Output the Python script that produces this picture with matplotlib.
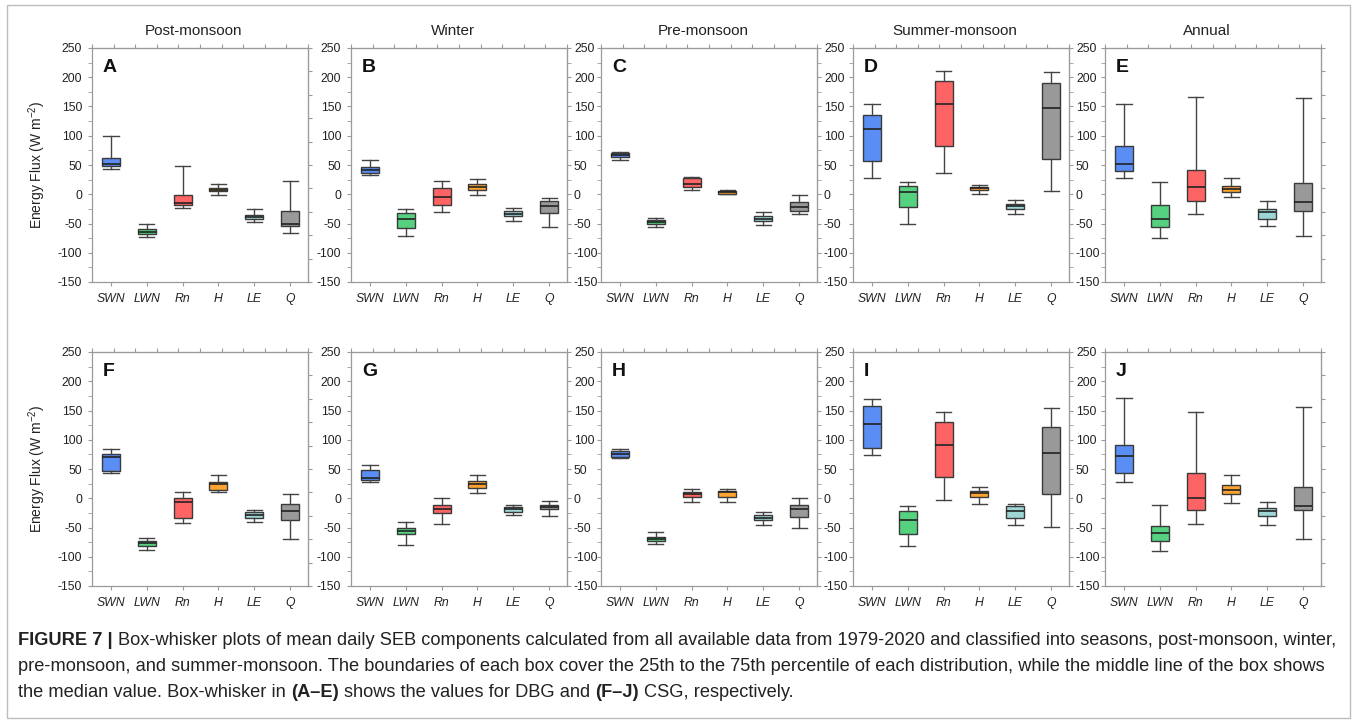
import numpy as np
import matplotlib.pyplot as plt
from matplotlib.patches import Rectangle

plt.rcParams['font.family'] = ['Liberation Sans', 'DejaVu Sans']
plt.rcParams['mathtext.fontset'] = 'custom'
plt.rcParams['mathtext.rm'] = 'Liberation Sans'
plt.rcParams['mathtext.it'] = 'Liberation Sans:italic'
plt.rcParams['axes.unicode_minus'] = False

cats = ['SWN', 'LWN', 'Rn', 'H', 'LE', 'Q']
seasons = ['Post-monsoon', 'Winter', 'Pre-monsoon', 'Summer-monsoon', 'Annual']
letters = ['A', 'B', 'C', 'D', 'E', 'F', 'G', 'H', 'I', 'J']
box_colors = ['#5a8ef5', '#55d17f', '#ff6464', '#ffa431', '#9ed6d6', '#999999']

# one row per component: whisker low, q1, median, q3, whisker high  (W m-2)
dbg_post = [[44, 48, 52, 62, 100], [-73, -68, -64, -59, -51], [-23, -19, -15, -2, 48],
            [-2, 5, 7, 11, 17], [-47, -43, -39, -35, -25], [-67, -55, -50, -28, 23]]
dbg_winter = [[33, 37, 42, 46, 58], [-72, -57, -42, -32, -26], [-31, -18, -5, 10, 23],
              [-1, 7, 13, 18, 26], [-46, -38, -34, -29, -24], [-56, -32, -20, -12, -7]]
dbg_pre = [[58, 64, 67, 70, 73], [-56, -51, -47, -44, -40], [8, 13, 18, 27, 30],
           [0, 1, 4, 6, 8], [-52, -45, -42, -38, -31], [-34, -28, -21, -13, -1]]
dbg_summer = [[28, 57, 112, 135, 155], [-51, -22, 3, 14, 21], [37, 82, 154, 194, 211],
              [1, 7, 10, 13, 15], [-33, -25, -20, -16, -10], [6, 61, 148, 190, 209]]
dbg_annual = [[28, 39, 52, 82, 155], [-75, -56, -42, -19, 21], [-33, -11, 13, 42, 166],
              [-4, 4, 9, 14, 27], [-54, -42, -30, -25, -11], [-71, -29, -13, 20, 164]]
csg_post = [[43, 47, 71, 76, 84], [-89, -81, -77, -73, -68], [-42, -33, -6, 1, 11],
            [11, 14, 24, 28, 39], [-41, -33, -28, -24, -20], [-69, -37, -21, -10, 7]]
csg_winter = [[28, 32, 35, 49, 56], [-80, -61, -56, -51, -40], [-44, -26, -18, -12, 1],
              [9, 18, 24, 30, 40], [-28, -23, -19, -15, -11], [-31, -19, -15, -11, -4]]
csg_pre = [[68, 70, 75, 81, 85], [-79, -73, -69, -66, -57], [-7, 2, 7, 11, 15],
           [-7, 2, 10, 12, 15], [-45, -38, -33, -29, -24], [-51, -32, -19, -11, 0]]
csg_summer = [[74, 86, 127, 158, 170], [-82, -61, -38, -22, -13], [-3, 36, 91, 130, 147],
              [-10, 2, 9, 13, 19], [-46, -34, -22, -14, -9], [-49, 8, 77, 122, 154]]
csg_annual = [[28, 43, 72, 91, 171], [-90, -73, -60, -48, -12], [-44, -20, 0, 44, 148],
              [-8, 8, 14, 22, 39], [-45, -30, -22, -17, -7], [-69, -20, -13, 19, 156]]

panels = [dbg_post, dbg_winter, dbg_pre, dbg_summer, dbg_annual,
          csg_post, csg_winter, csg_pre, csg_summer, csg_annual]

W, H = 1357, 724
fig = plt.figure(figsize=(W / 100, H / 100), dpi=100)

gray = '#9a9a9a'
lefts = [92, 351, 601, 853, 1105]
tops = [48, 352]
aw, ah = 216, 234
xlim = (0.47, 6.5)

for k, data in enumerate(panels):
    row, col = divmod(k, 5)
    ax = fig.add_axes([lefts[col] / W, 1 - (tops[row] + ah) / H, aw / W, ah / H])
    stats = [dict(whislo=r[0], q1=r[1], med=r[2], q3=r[3], whishi=r[4], fliers=[]) for r in data]
    bp = ax.bxp(stats, positions=range(1, 7), widths=0.5, capwidths=0.42, patch_artist=True,
                showfliers=False,
                boxprops=dict(edgecolor='#3a3a3a', linewidth=1.0),
                medianprops=dict(color='#222222', linewidth=1.2),
                whiskerprops=dict(color='#444444', linewidth=1.0),
                capprops=dict(color='#444444', linewidth=1.0))
    for patch, c in zip(bp['boxes'], box_colors):
        patch.set_facecolor(c)

    ax.set_xlim(*xlim)
    ax.set_ylim(-150, 250)
    ax.set_xticks(range(1, 7))
    ax.set_xticklabels(cats, fontstyle='italic', fontsize=8.7, color='#222222')
    ax.set_yticks(range(-150, 251, 50))
    ax.set_yticks(range(-125, 250, 50), minor=True)
    ax.tick_params(axis='both', which='both', direction='out', length=3, color=gray,
                   labelsize=8.8, labelcolor='#222222')
    ax.tick_params(axis='x', pad=5)
    ax.tick_params(axis='y', pad=4)
    if col >= 2:
        ax.tick_params(axis='y', labelleft=False)
    for s in ax.spines.values():
        s.set_color(gray)
        s.set_linewidth(0.9)

    # top axis: evenly spaced ticks, no labels
    top = ax.secondary_xaxis('top')
    top.set_xticks(np.linspace(xlim[0], xlim[1], 11))
    top.tick_params(direction='out', length=3, color=gray, labeltop=False)
    top.spines['top'].set_color(gray)

    # right axis
    right = ax.secondary_yaxis('right')
    if col in (1, 2, 3):
        right.set_yticks(range(-150, 251, 50))
        right.set_yticks(range(-125, 250, 50), minor=True)
        right.tick_params(which='both', direction='out', length=3, color=gray,
                          labelsize=8.8, labelcolor='#222222', pad=2)
    else:
        right.set_yticks(np.linspace(-150, 250, 11))
        right.tick_params(direction='out', length=3, color=gray, labelright=False)
    right.spines['right'].set_color(gray)

    ax.text(0.05, 0.955, letters[k], transform=ax.transAxes, fontsize=14,
            fontweight='bold', va='top', ha='left', color='#111111')

    if col == 0:
        ax.set_ylabel('Energy Flux (W m$^{\\mathrm{-2}}$)', fontsize=10, color='#222222')
        ax.yaxis.set_label_coords(-0.204, 0.5)
    if row == 0:
        fig.text((lefts[col] + aw / 2 - 6) / W, 1 - 31 / H, seasons[col],
                 family=['Liberation Sans Narrow', 'Liberation Sans'], fontsize=11,
                 ha='center', va='center', color='#222222')

# frame around the whole figure
fig.add_artist(Rectangle((7 / W, 1 - 718 / H), 1343 / W, 713 / H, transform=fig.transFigure,
                         fill=False, edgecolor='#bdbdbd', linewidth=1.0))

# caption with bold runs
cap_font = ['Liberation Sans Narrow', 'Liberation Sans']
renderer = fig.canvas.get_renderer()
cap_lines = [
    [('FIGURE 7 |', True), ('Box-whisker plots of mean daily SEB components calculated from all available data from 1979-2020 and classified into seasons, post-monsoon, winter,', False)],
    [('pre-monsoon, and summer-monsoon. The boundaries of each box cover the 25th to the 75th percentile of each distribution, while the middle line of the box shows', False)],
    [('the median value. Box-whisker in', False), ('(A\u2013E)', True), ('shows the values for DBG and', False),
     ('(F\u2013J)', True), ('CSG, respectively.', False)],
]


def measure(txt, size, bold):
    t = fig.text(0, 0, txt, fontsize=size, family=cap_font, fontweight='bold' if bold else 'normal')
    w = t.get_window_extent(renderer).width
    t.remove()
    return w


def line_width(runs, size):
    sp = measure('x x', size, False) - measure('xx', size, False)
    return sum(measure(t, size, b) for t, b in runs) + sp * (len(runs) - 1)


base = 10
cap_size = base * 1322 / line_width(cap_lines[0], base)
space = measure('x x', cap_size, False) - measure('xx', cap_size, False)
for y, runs in zip([645, 671, 697], cap_lines):
    x = 18
    for txt, bold in runs:
        t = fig.text(x / W, 1 - y / H, txt, fontsize=cap_size, family=cap_font,
                     fontweight='bold' if bold else 'normal', va='baseline', ha='left',
                     color='#222222')
        x += t.get_window_extent(renderer).width + space

fig.savefig('out.png', dpi=100)
